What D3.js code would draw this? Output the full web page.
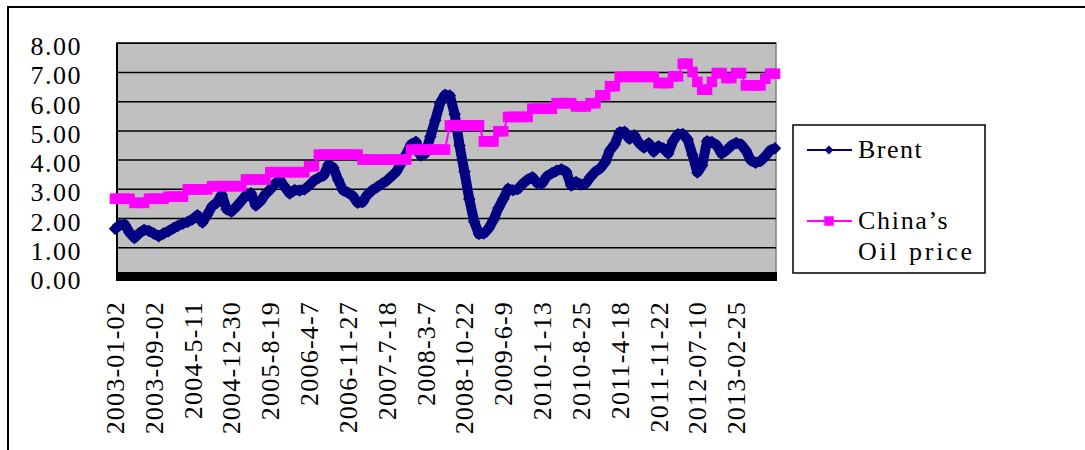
<!DOCTYPE html>
<html>
<head>
<meta charset="utf-8">
<script src="https://cdn.jsdelivr.net/npm/d3@7"></script>
<style>
body { margin: 0; background: #fff; }
</style>
</head>
<body>
<div id="canvas"></div>
<script>
var dateLabels = ["2003-01-02", "2003-09-02", "2004-5-11", "2004-12-30", "2005-8-19", "2006-4-7",
    "2006-11-27", "2007-7-18", "2008-3-7", "2008-10-22", "2009-6-9", "2010-1-13", "2010-8-25",
    "2011-4-18", "2011-11-22", "2012-07-10", "2013-02-25"];
var labelEvery = 8;
var yTicks = [0, 1, 2, 3, 4, 5, 6, 7, 8];

var brent = [
    1.63, 1.76, 1.78, 1.50, 1.32, 1.48, 1.60, 1.56, 1.47, 1.38,
    1.47, 1.55, 1.65, 1.74, 1.81, 1.87, 1.96, 2.10, 1.85, 2.11,
    2.40, 2.53, 2.80, 2.30, 2.22, 2.39, 2.58, 2.78, 2.85, 2.43,
    2.58, 2.82, 2.98, 3.18, 3.29, 3.06, 2.84, 2.96, 2.94, 2.98,
    3.11, 3.28, 3.38, 3.46, 3.83, 3.72, 3.30, 2.95, 2.87, 2.76,
    2.52, 2.54, 2.80, 2.95, 3.06, 3.17, 3.28, 3.43, 3.59, 3.88,
    4.18, 4.52, 4.61, 4.14, 4.22, 4.79, 5.35, 5.94, 6.22, 6.19,
    5.55, 4.48, 3.59, 2.65, 1.88, 1.45, 1.47, 1.65, 1.94, 2.34,
    2.65, 3.00, 2.95, 2.99, 3.17, 3.31, 3.40, 3.20, 3.18, 3.43,
    3.53, 3.62, 3.67, 3.58, 3.11, 3.23, 3.15, 3.18, 3.41, 3.59,
    3.70, 3.91, 4.32, 4.53, 4.94, 4.95, 4.71, 4.83, 4.56, 4.41,
    4.56, 4.27, 4.46, 4.38, 4.21, 4.64, 4.87, 4.88, 4.69, 4.16,
    3.56, 3.81, 4.63, 4.60, 4.49, 4.20, 4.32, 4.48, 4.57, 4.52,
    4.31, 3.98, 3.89, 3.95, 4.11, 4.31, 4.39];

var chinaOil = [
    2.66, 2.66, 2.66, 2.66, 2.52, 2.52, 2.52, 2.66, 2.66, 2.66,
    2.66, 2.73, 2.73, 2.73, 2.73, 2.98, 2.98, 2.98, 2.98, 2.98,
    3.09, 3.09, 3.09, 3.09, 3.09, 3.09, 3.09, 3.32, 3.32, 3.32,
    3.32, 3.32, 3.57, 3.57, 3.57, 3.57, 3.57, 3.57, 3.57, 3.57,
    3.77, 3.77, 4.17, 4.17, 4.17, 4.17, 4.17, 4.17, 4.17, 4.17,
    4.17, 4.00, 4.00, 4.00, 4.00, 4.00, 4.00, 4.00, 4.00, 4.00,
    4.00, 4.34, 4.34, 4.34, 4.34, 4.34, 4.34, 4.34, 4.34, 5.17,
    5.17, 5.17, 5.17, 5.17, 5.17, 5.17, 4.62, 4.62, 4.62, 4.97,
    4.97, 5.46, 5.46, 5.46, 5.46, 5.46, 5.74, 5.74, 5.74, 5.74,
    5.74, 5.93, 5.93, 5.93, 5.93, 5.82, 5.82, 5.82, 5.93, 5.93,
    6.20, 6.20, 6.51, 6.51, 6.83, 6.83, 6.83, 6.83, 6.83, 6.83,
    6.83, 6.83, 6.62, 6.62, 6.62, 6.85, 6.85, 7.28, 7.28, 7.00,
    6.66, 6.39, 6.39, 6.66, 6.96, 6.96, 6.79, 6.79, 6.96, 6.96,
    6.54, 6.54, 6.54, 6.54, 6.77, 6.94, 6.94];

var width = 1085, height = 450;
var plotLeft = 117, plotRight = 776;
var font = "'Liberation Serif', 'Times New Roman', serif";

var svg = d3.select("#canvas").append("svg").attr("width", width).attr("height", height);

// outer chart frame (runs off the right and bottom edge)
svg.append("rect").attr("x", 8).attr("y", 7)
    .attr("width", 1100).attr("height", 470)
    .attr("fill", "white").attr("stroke", "black").attr("stroke-width", 2);

var x = d3.scaleLinear().domain([0, brent.length - 1]).range([115, 775]);
var y = d3.scaleLinear().domain([0, 8]).range([276.5, 42.7]);

// plot area
svg.append("rect").attr("x", plotLeft).attr("y", y(8))
    .attr("width", plotRight - plotLeft).attr("height", y(0) - y(8))
    .attr("fill", "#c0c0c0").attr("stroke", "#808080").attr("stroke-width", 1.5);

// gridlines + y labels
var yAxis = svg.append("g").attr("transform", "translate(" + plotLeft + ",0)")
    .call(d3.axisLeft(y).tickValues(yTicks).tickSize(-(plotRight - plotLeft)).tickPadding(35)
        .tickFormat(d3.format(".2f")));
yAxis.select(".domain").remove();
yAxis.selectAll("line").attr("stroke", "black").attr("stroke-width", 1.5);
yAxis.selectAll("text")
    .attr("dy", 12)
    .style("font-family", font)
    .style("font-size", "26px")
    .attr("fill", "black")
    .attr("letter-spacing", "1.5px");

// left axis line
svg.append("line").attr("x1", plotLeft).attr("x2", plotLeft)
    .attr("y1", y(8)).attr("y2", y(0))
    .attr("stroke", "black").attr("stroke-width", 2);

// heavy category axis at zero
svg.append("rect").attr("x", plotLeft - 1).attr("y", y(0) - 4.5)
    .attr("width", plotRight - plotLeft + 2).attr("height", 9)
    .attr("fill", "black");

// x labels, rotated
var xAxis = svg.append("g").attr("transform", "translate(0,301)")
    .call(d3.axisBottom(x)
        .tickValues(dateLabels.map(function(d, i) { return i * labelEvery; }))
        .tickFormat(function(d) { return dateLabels[d / labelEvery]; })
        .tickSize(0));
xAxis.select(".domain").remove();
xAxis.selectAll("text")
    .attr("transform", "rotate(-90)")
    .attr("x", 0)
    .attr("y", 8.5)
    .attr("dy", 0)
    .attr("text-anchor", "end")
    .attr("fill", "black")
    .attr("letter-spacing", "1.2px")
    .style("font-family", font)
    .style("font-size", "26px");

var line = d3.line()
    .x(function(d, i) { return x(i); })
    .y(function(d) { return y(d); });

// Brent
svg.append("path").datum(brent)
    .attr("d", line)
    .attr("fill", "none")
    .attr("stroke", "#000080")
    .attr("stroke-width", 10)
    .attr("stroke-linejoin", "round");
svg.selectAll("path.brentMark").data(brent).enter().append("path")
    .attr("class", "brentMark")
    .attr("d", d3.symbol(d3.symbolSquare, 78))
    .attr("transform", function(d, i) { return "translate(" + x(i) + "," + y(d) + ") rotate(45)"; })
    .attr("fill", "#000080");

// China's oil price
svg.append("path").datum(chinaOil)
    .attr("d", line)
    .attr("fill", "none")
    .attr("stroke", "#ff00ff")
    .attr("stroke-width", 2);
svg.selectAll("path.chinaMark").data(chinaOil).enter().append("path")
    .attr("class", "chinaMark")
    .attr("d", d3.symbol(d3.symbolSquare, 112))
    .attr("transform", function(d, i) { return "translate(" + x(i) + "," + y(d) + ")"; })
    .attr("fill", "#ff00ff");

// legend
var legend = svg.append("g");
legend.append("rect").attr("x", 793).attr("y", 125)
    .attr("width", 192).attr("height", 148)
    .attr("fill", "white").attr("stroke", "black").attr("stroke-width", 1.5);

legend.append("line").attr("x1", 807).attr("x2", 852).attr("y1", 150).attr("y2", 150)
    .attr("stroke", "#000080").attr("stroke-width", 2);
legend.append("path").attr("d", d3.symbol(d3.symbolSquare, 40))
    .attr("transform", "translate(829,150) rotate(45)").attr("fill", "#000080");
legend.append("text").attr("x", 858).attr("y", 158)
    .style("font-family", font).style("font-size", "26px").attr("letter-spacing", "1.5px")
    .text("Brent");

legend.append("line").attr("x1", 807).attr("x2", 852).attr("y1", 221).attr("y2", 221)
    .attr("stroke", "#ff00ff").attr("stroke-width", 2);
legend.append("path").attr("d", d3.symbol(d3.symbolSquare, 90))
    .attr("transform", "translate(829,221)").attr("fill", "#ff00ff");
legend.append("text").attr("x", 858).attr("y", 229)
    .style("font-family", font).style("font-size", "26px").attr("letter-spacing", "1.7px")
    .text("China’s");
legend.append("text").attr("x", 858).attr("y", 260)
    .style("font-family", font).style("font-size", "26px").attr("letter-spacing", "2.8px")
    .text("Oil price");
</script>
</body>
</html>
